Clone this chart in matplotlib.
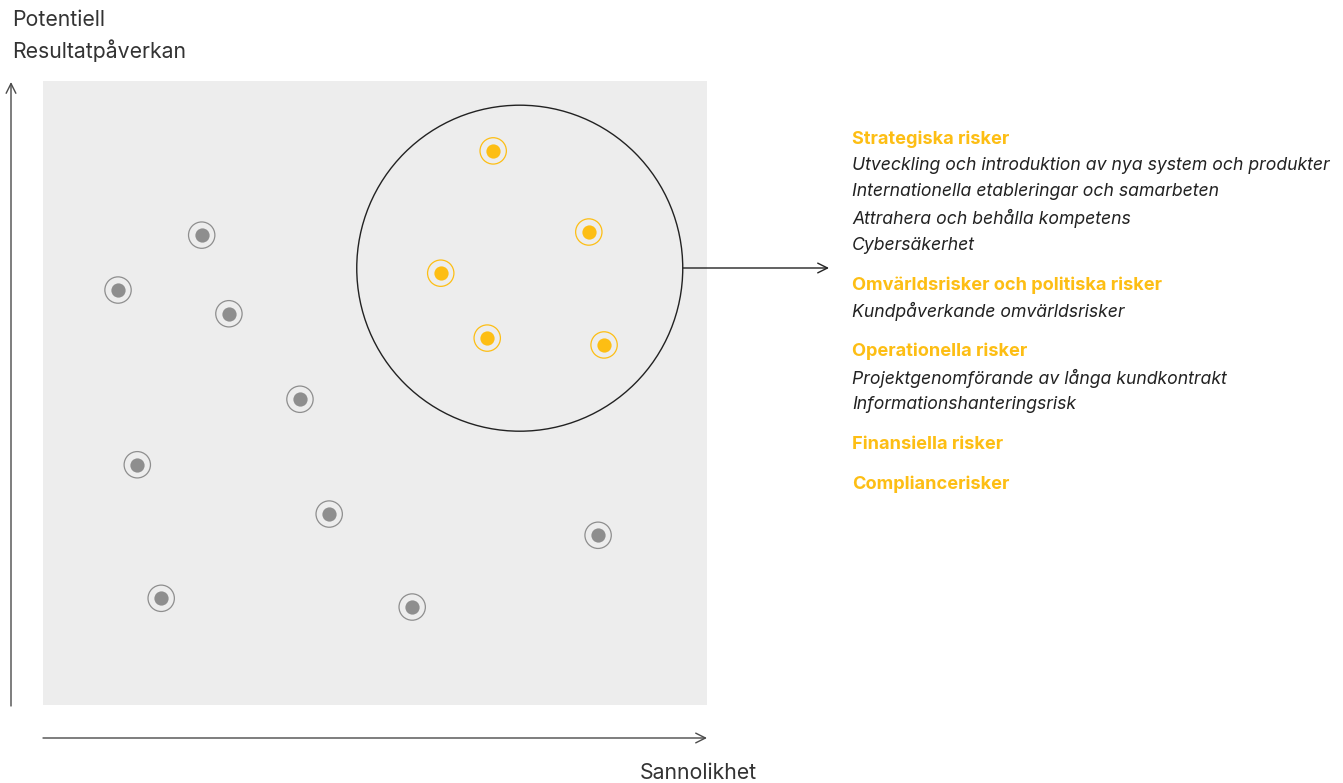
import matplotlib.pyplot as plt
from matplotlib.patches import Ellipse

# Colors
YELLOW = '#FDBE14'
GREY_DOT = '#8E8E8E'
PANEL = '#EDEDED'
LINE = '#4A4A4A'
TEXT = '#333333'

W, H = 1343, 783

# risk positions (0-10 scale: x = sannolikhet, y = resultatpåverkan)
grey_x = [2.39, 1.13, 2.80, 3.87, 1.42, 4.31, 8.36, 1.78, 5.56]
grey_y = [7.53, 6.65, 6.27, 4.90, 3.85, 3.06, 2.72, 1.71, 1.57]
key_x = [6.78, 8.22, 5.99, 6.69, 8.45]
key_y = [8.88, 7.58, 6.92, 5.88, 5.77]

headers = ['Strategiska risker', 'Omvärldsrisker och politiska risker',
           'Operationella risker', 'Finansiella risker', 'Compliancerisker']
items = [
    ['Utveckling och introduktion av nya system och produkter',
     'Internationella etableringar och samarbeten',
     'Attrahera och behålla kompetens',
     'Cybersäkerhet'],
    ['Kundpåverkande omvärldsrisker'],
    ['Projektgenomförande av långa kundkontrakt',
     'Informationshanteringsrisk'],
    [],
    [],
]

plt.rcParams['font.family'] = ['Inter', 'DejaVu Sans']

fig = plt.figure(figsize=(W / 100, H / 100), dpi=100)

# panel
ax = fig.add_axes([43 / W, (H - 705) / H, 664 / W, 624 / H])
ax.set_facecolor(PANEL)
ax.set_xlim(0, 10)
ax.set_ylim(0, 10)
for s in ax.spines.values():
    s.set_visible(False)
ax.set_xticks([])
ax.set_yticks([])

ax.scatter(grey_x, grey_y, s=360, facecolor='none', edgecolor=GREY_DOT, linewidth=0.9, zorder=3)
ax.scatter(grey_x, grey_y, s=105, color=GREY_DOT, linewidth=0, zorder=4)
ax.scatter(key_x, key_y, s=360, facecolor='none', edgecolor=YELLOW, linewidth=0.9, zorder=3)
ax.scatter(key_x, key_y, s=105, color=YELLOW, linewidth=0, zorder=4)

# circle around key risks
r = 163
ax.add_patch(Ellipse((7.18, 7.00), 2 * r / 66.4, 2 * r / 62.4, facecolor='none',
                     edgecolor='#222222', linewidth=1.0, zorder=2))

# overlay in pixel coordinates for arrows and text
over = fig.add_axes([0, 0, 1, 1], zorder=5)
over.patch.set_alpha(0)
over.set_xlim(0, W)
over.set_ylim(H, 0)
over.axis('off')

arrow = dict(arrowstyle='->,head_length=0.7,head_width=0.35', color=LINE, lw=1.0,
             shrinkA=0, shrinkB=0)
over.annotate('', xy=(829, 268), xytext=(683, 268),
              arrowprops=dict(arrow, color='#222222'))
over.annotate('', xy=(11, 82), xytext=(11, 706), arrowprops=arrow)
over.annotate('', xy=(707, 738), xytext=(43, 738), arrowprops=arrow)

over.text(12, 20, 'Potentiell', fontsize=15.3, color=TEXT, va='center')
over.text(12, 51, 'Resultatpåverkan', fontsize=15.3, color=TEXT, va='center')
over.text(698, 773, 'Sannolikhet', fontsize=15.3, color=TEXT, va='center', ha='center')

# legend text
y = 139
for h, its in zip(headers, items):
    over.text(852, y, h, fontsize=13.1, color=YELLOW, fontweight='bold', va='center')
    y += 26.5
    for it in its:
        over.text(852, y, it, fontsize=12.7, color='#222222', style='italic', va='center')
        y += 26.5
    y += 13.5

fig.savefig('out.png', dpi=100)
